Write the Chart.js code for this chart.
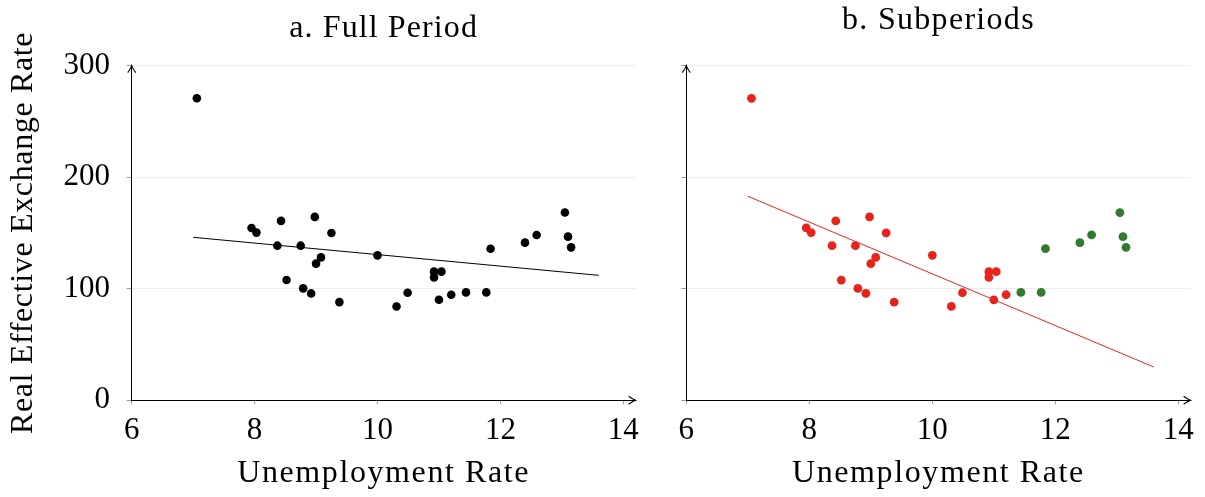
<!DOCTYPE html>
<html>
<head>
<meta charset="utf-8">
<script src="https://cdn.jsdelivr.net/npm/chart.js@4.4.1/dist/chart.umd.min.js"></script>
<style>
html,body{margin:0;padding:0;background:#fff;width:1205px;height:497px;overflow:hidden}
#pa{position:absolute;left:0;top:0;width:650px;height:497px}
#pb{position:absolute;left:650px;top:0;width:555px;height:497px}
</style>
</head>
<body>
<div id="pa"><canvas id="ca"></canvas></div>
<div id="pb"><canvas id="cb"></canvas></div>
<script>
// ---- data ----
const unemployment = [7.06, 7.95, 8.03, 8.37, 8.43, 8.52, 8.75, 8.79, 8.92, 8.98,
                      9.00, 9.08, 9.25, 9.38, 10.00, 10.31, 10.49, 10.92, 10.92, 11.00,
                      11.04, 11.20, 11.44, 11.77, 11.84, 12.40, 12.59, 13.05, 13.10, 13.15];
const reer = [270.7, 154.5, 150.3, 138.6, 160.8, 107.8, 138.6, 100.3, 95.8, 164.4,
              122.5, 128.1, 150.0, 88.0, 129.9, 84.1, 96.4, 115.3, 110.2, 90.1,
              115.3, 94.6, 96.7, 96.7, 135.9, 141.3, 148.2, 168.3, 146.7, 137.1];
const firstSubperiodCount = 22;           // red points; the rest are green
const fitX = [7.0, 13.6];
const fitFullY = [146.1, 112.0];
const fitSubY = [182.9, 29.9];
const xTickValues = [6, 8, 10, 12, 14];
const yTickValues = [0, 100, 200, 300];
const panelTitles = ['a. Full Period', 'b. Subperiods'];
const xAxisTitle = 'Unemployment Rate';
const yAxisTitle = 'Real Effective Exchange Rate';

const toPts = (xs, ys) => xs.map((x, i) => ({x: x, y: ys[i]}));
const allPts = toPts(unemployment, reer);
const redPts = allPts.slice(0, firstSubperiodCount);
const greenPts = allPts.slice(firstSubperiodCount);

// wider letter spacing for the title texts (reference uses a wider Palatino-like face)
const spacingFor = {};
spacingFor[xAxisTitle] = '1.6px';
spacingFor[yAxisTitle] = '0.65px';
spacingFor[panelTitles[0]] = '1.1px';
spacingFor[panelTitles[1]] = '1.3px';
(function () {
  const proto = CanvasRenderingContext2D.prototype;
  const orig = proto.fillText;
  proto.fillText = function (t, x, y, mw) {
    const sp = spacingFor[t];
    if (sp && 'letterSpacing' in this) {
      const prev = this.letterSpacing;
      this.letterSpacing = sp;
      if (mw === undefined) orig.call(this, t, x, y); else orig.call(this, t, x, y, mw + 40);
      this.letterSpacing = prev;
    } else if (mw === undefined) {
      orig.call(this, t, x, y);
    } else {
      orig.call(this, t, x, y, mw);
    }
  };
})();

Chart.defaults.font.family = "'Liberation Serif', 'Times New Roman', serif";
Chart.defaults.color = '#000';

const axisArrows = {
  id: 'axisArrows',
  afterDraw(chart) {
    const {ctx, chartArea: {left, right, top, bottom}} = chart;
    ctx.save();
    ctx.strokeStyle = '#000';
    ctx.lineWidth = 1.1;
    ctx.beginPath();
    ctx.moveTo(right - 7, bottom - 4); ctx.quadraticCurveTo(right - 3, bottom - 1, right, bottom);
    ctx.quadraticCurveTo(right - 3, bottom + 1, right - 7, bottom + 4);
    ctx.moveTo(left - 4, top + 7); ctx.quadraticCurveTo(left - 1, top + 3, left, top);
    ctx.quadraticCurveTo(left + 1, top + 3, left + 4, top + 7);
    ctx.stroke();
    ctx.restore();
  }
};

function makeScales(showY, yWidth) {
  return {
    x: {
      type: 'linear', min: 6, max: 14.2,
      afterBuildTicks: s => { s.ticks = xTickValues.map(v => ({value: v})); },
      afterFit: s => { s.height = 96.7; },
      ticks: {font: {size: 31}, padding: 7.6, maxRotation: 0, autoSkip: false},
      grid: {drawOnChartArea: false, drawTicks: true, tickLength: 4, tickColor: '#9a9a9a'},
      border: {display: true, color: '#000', width: 1},
      title: {display: true, text: xAxisTitle, font: {size: 32}, padding: {top: 0, bottom: 4.3}}
    },
    y: {
      type: 'linear', min: 0, max: 300,
      afterBuildTicks: s => { s.ticks = yTickValues.map(v => ({value: v})); },
      afterFit: s => { s.width = yWidth; },
      ticks: {display: showY, font: {size: 31}, padding: 16.7},
      grid: {
        drawTicks: true, tickLength: 5, tickColor: '#9a9a9a',
        color: c => (c.tick && c.tick.value === 0) ? 'rgba(0,0,0,0)' : '#ececec',
        lineWidth: 1
      },
      border: {display: true, color: '#000', width: 1},
      title: {display: showY, text: yAxisTitle, font: {size: 32}, padding: {top: 4, bottom: 0}}
    }
  };
}

function makeOptions(title, showY, yWidth, topPad, titleBottom) {
  return {
    responsive: true,
    maintainAspectRatio: false,
    animation: false,
    layout: {padding: {left: 0, right: 14.4, top: topPad, bottom: 0}},
    plugins: {
      legend: {display: false},
      tooltip: {enabled: false},
      title: {display: true, fullSize: false, text: title, font: {size: 32, weight: 'normal'}, color: '#000',
              padding: {top: 0, bottom: titleBottom}}
    },
    scales: makeScales(showY, yWidth)
  };
}

new Chart(document.getElementById('ca'), {
  type: 'scatter',
  data: {
    datasets: [
      {label: 'Full period', data: allPts, backgroundColor: '#000', borderWidth: 0, pointRadius: 4.3},
      {label: 'Fit', data: toPts(fitX, fitFullY), showLine: true, borderColor: '#000', borderWidth: 1,
       pointRadius: 0, fill: false}
    ]
  },
  options: makeOptions(panelTitles[0], true, 131.7, 9.3, 17.9),
  plugins: [axisArrows]
});

new Chart(document.getElementById('cb'), {
  type: 'scatter',
  data: {
    datasets: [
      {label: 'First subperiod', data: redPts, backgroundColor: '#e8231c', borderWidth: 0, pointRadius: 4.4},
      {label: 'Second subperiod', data: greenPts, backgroundColor: '#2f7d2c', borderWidth: 0, pointRadius: 4.4},
      {label: 'Fit', data: toPts(fitX, fitSubY), showLine: true, borderColor: '#e8231c', borderWidth: 1,
       pointRadius: 0, fill: false}
    ]
  },
  options: makeOptions(panelTitles[1], false, 36.3, 1.3, 25.9),
  plugins: [axisArrows]
});
</script>
</body>
</html>
